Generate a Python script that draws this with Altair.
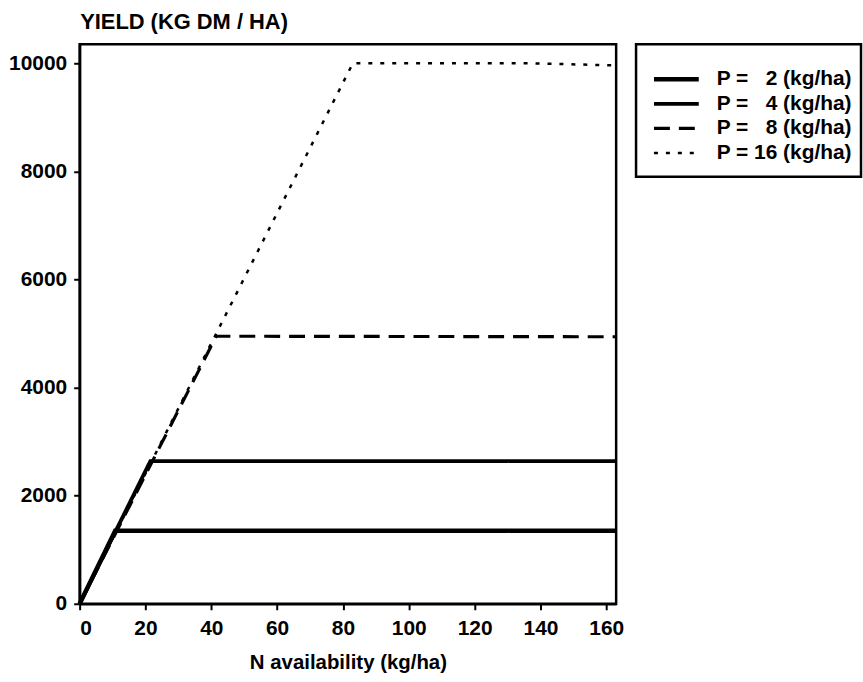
import altair as alt
import pandas as pd

# ---- data ----
series = ["P = \u20072 (kg/ha)", "P = \u20074 (kg/ha)", "P = \u20078 (kg/ha)", "P = 16 (kg/ha)"]
legend_rank = [0, 1, 2, 3]
n_p2 = [0, 10.8, 163]
y_p2 = [0, 1350, 1350]
n_p4 = [0, 21.5, 163]
y_p4 = [0, 2640, 2640]
n_p8 = [0, 41.5, 163]
y_p8 = [0, 4950, 4940]
n_p16 = [0, 83, 137, 163]
y_p16 = [0, 10000, 10000, 9960]

x_ticks = [0, 20, 40, 60, 80, 100, 120, 140, 160]
y_ticks = [0, 2000, 4000, 6000, 8000, 10000]

rows = []
for s, ns, ys in zip(series, [n_p2, n_p4, n_p8, n_p16], [y_p2, y_p4, y_p8, y_p16]):
    for i, (n, y) in enumerate(zip(ns, ys)):
        rows.append({"series": s, "n": n, "yield": y, "order": i})
df = pd.DataFrame(rows)
legend_df = pd.DataFrame({"series": series, "rank": legend_rank})

FONT = "Liberation Sans"
dash_scale = alt.Scale(domain=series, range=[[1, 0], [1, 0], [16, 9], [4, 8]])
width_scale = alt.Scale(domain=series, range=[4.5, 2.5, 3, 3.5])

x_enc = alt.X("n:Q", scale=alt.Scale(domain=[0, 163], nice=False),
              axis=alt.Axis(values=x_ticks, format="d", title="N availability (kg/ha)",
                            titlePadding=14, titleFontSize=20.5))
y_enc = alt.Y("yield:Q", scale=alt.Scale(domain=[0, 10350], nice=False),
              axis=alt.Axis(values=y_ticks, format="d", title="YIELD (KG DM / HA)", titleAngle=0,
                            titleX=0, titleY=-16, titleAlign="left",
                            titleBaseline="alphabetic", titleFontSize=22))

layers = []
for s in reversed(series):
    layers.append(
        alt.Chart(df).transform_filter(alt.datum.series == s).mark_line(color="black").encode(
            x=x_enc, y=y_enc, order="order:Q",
            strokeDash=alt.StrokeDash("series:N", scale=dash_scale, legend=None),
            strokeWidth=alt.StrokeWidth("series:N", scale=width_scale, legend=None),
        )
    )
main = alt.layer(*layers).properties(width=539, height=562)

leg_y = alt.Y("rank:Q", scale=alt.Scale(domain=[-1.42, 3.97], nice=False, zero=False, reverse=True),
              axis=None)
leg_rule = alt.Chart(legend_df).mark_rule(color="black").encode(
    x=alt.value(18), x2=alt.value(63), y=leg_y,
    strokeDash=alt.StrokeDash("series:N", scale=dash_scale, legend=None),
    strokeWidth=alt.StrokeWidth("series:N", scale=width_scale, legend=None),
)
leg_text = alt.Chart(legend_df).mark_text(
    align="left", baseline="middle", font=FONT, fontSize=21, fontWeight="bold", color="black"
).encode(x=alt.value(81), y=leg_y, text="series:N")
legend_panel = alt.layer(leg_rule, leg_text).properties(width=226, height=133)

chart = alt.hconcat(main, legend_panel, spacing=20, bounds="flush").properties(
    padding={"left": 7, "top": 7, "right": 0, "bottom": 0}
).configure_view(
    stroke="black", strokeWidth=2.5
).configure_axis(
    domainColor="black", domainWidth=2.5, tickColor="black", tickWidth=2, tickSize=6,
    labelFont=FONT, labelFontSize=21, labelFontWeight="bold", labelColor="black",
    labelPadding=7, titleFont=FONT, titleFontSize=20.5, titleFontWeight="bold",
    titleColor="black", grid=False
).configure_axisX(labelPadding=8)

chart.save("out.html", embed_options={"renderer": "svg", "actions": False})
